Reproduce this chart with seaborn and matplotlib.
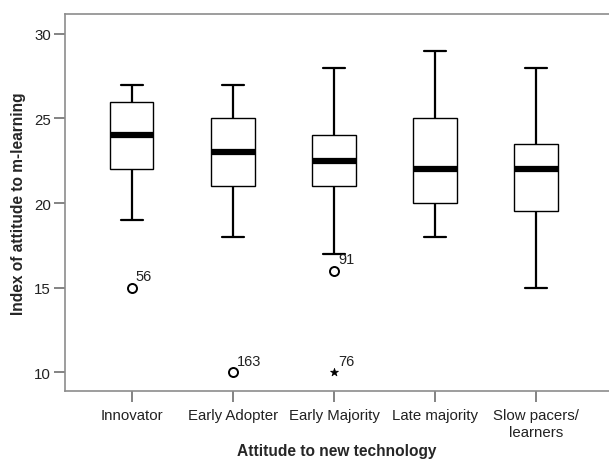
import matplotlib
matplotlib.use("Agg")
import matplotlib.pyplot as plt
import seaborn as sns
import pandas as pd

# ---- data ----
categories = ["Innovator", "Early Adopter", "Early Majority", "Late majority",
              "Slow pacers/\nlearners"]
whisker_low = [19, 18, 17, 18, 15]
q1 = [22, 21, 21, 20, 19.5]
median = [24, 23, 22.5, 22, 22]
q3 = [26, 25, 24, 25, 23.5]
whisker_high = [27, 27, 28, 29, 28]

outlier_cat = ["Innovator", "Early Adopter", "Early Majority", "Early Majority"]
outlier_val = [15, 10, 16, 10]
outlier_case = ["56", "163", "91", "76"]
outlier_extreme = [False, False, False, True]

yticks = [10, 15, 20, 25, 30]

# ---- build tables ----
rows = []
for c, a, b, m, d, e in zip(categories, whisker_low, q1, median, q3, whisker_high):
    for v in (a, b, m, d, e):
        rows.append({"cat": c, "val": v})
box_df = pd.DataFrame(rows)
out_df = pd.DataFrame({"cat": outlier_cat, "val": outlier_val,
                       "case": outlier_case, "extreme": outlier_extreme})

sns.set_style("white")
plt.rcParams["font.family"] = ["Liberation Sans", "DejaVu Sans"]

fig = plt.figure(figsize=(6.09, 4.60), dpi=100)
ax = fig.add_axes([65 / 609, 1 - 392 / 460, 1 - 65 / 609, (392 - 15) / 460])

sns.boxplot(data=box_df, x="cat", y="val", order=categories, whis=(0, 100),
            color="white", linecolor="black", width=0.43, linewidth=1.0,
            fliersize=0, ax=ax,
            whiskerprops={"linewidth": 1.6}, capprops={"linewidth": 1.6},
            medianprops={"linewidth": 4.5, "color": "black"},
            boxprops={"facecolor": "white", "edgecolor": "black", "linewidth": 1.0})

circ = out_df[~out_df["extreme"]]
star = out_df[out_df["extreme"]]
sns.stripplot(data=circ, x="cat", y="val", order=categories, jitter=False,
              color="white", edgecolor="black", linewidth=1.4, size=6.5,
              marker="o", ax=ax, zorder=5)
sns.stripplot(data=star, x="cat", y="val", order=categories, jitter=False,
              color="black", edgecolor="black", linewidth=0.5, size=6,
              marker="*", ax=ax, zorder=5)

for c, v, t in zip(outlier_cat, outlier_val, outlier_case):
    ax.annotate(t, (categories.index(c), v), xytext=(3, 3),
                textcoords="offset points", fontsize=10.5, color="#222222",
                ha="left", va="bottom")

ax.set_xlim(-0.66, 4.72)
ax.set_ylim(8.88, 31.18)
ax.set_yticks(yticks)
ax.set_yticklabels([str(v) for v in yticks])

for s in ("left", "top", "bottom"):
    ax.spines[s].set_color("#8c8c8c")
    ax.spines[s].set_linewidth(1.2)
ax.spines["right"].set_visible(False)

ax.tick_params(axis="both", which="both", direction="out", length=8,
               width=1.2, color="#6e6e6e", labelsize=10.8, labelcolor="#222222",
               left=True, bottom=True)
ax.tick_params(axis="x", pad=4.5)
ax.tick_params(axis="y", pad=2)

ax.set_xlabel("Attitude to new technology", fontsize=11.2, fontweight="bold",
              labelpad=3)
ax.set_ylabel("Index of attitude to m-learning", fontsize=11.2,
              fontweight="bold", labelpad=6)

fig.savefig("out.png", dpi=100, facecolor="white")
